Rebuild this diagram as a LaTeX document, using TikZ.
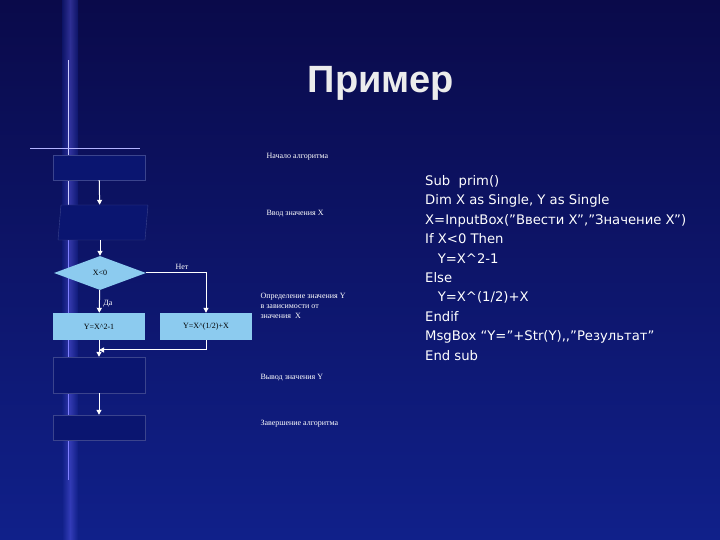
\documentclass[tikz,border=0pt]{standalone}
\usepackage{fontspec}
\setmainfont{Liberation Serif}
\newfontfamily\codefont{DejaVu Sans}
\newfontfamily\titlefont{Liberation Sans}
\usetikzlibrary{shapes.geometric,arrows.meta}
\definecolor{bgA}{HTML}{0A0A4A}
\definecolor{bgB}{HTML}{10208A}
\definecolor{boxfill}{HTML}{8CCBEF}
\definecolor{darkbox}{HTML}{0A1570}
\tikzset{x=1pt,y=1pt,
 dbox/.style={draw=darkbox!80!white,fill=darkbox,minimum width=92pt,inner sep=0pt},
 lbox/.style={fill=boxfill,minimum width=92pt,minimum height=27pt,inner sep=0pt,font=\fontsize{8}{9}\selectfont},
 lbl/.style={text=white,font=\fontsize{8}{10}\selectfont,anchor=west,align=left},
 arr/.style={white,line width=1pt,-{Triangle[length=5pt,width=5pt]}},
 ln/.style={white,line width=1pt}}
\begin{document}
\begin{tikzpicture}
\shade[top color=bgA,bottom color=bgB] (0,0) rectangle (720,540);
\shade[left color=bgB,right color=bgB,middle color=blue!60!white,opacity=0.4] (62,0) rectangle (78,540);
\draw[white!80!blue,line width=1pt] (68,300) -- (68,480);
\draw[blue!50!white,line width=0.6pt] (68,60) -- (68,300);
\draw[white!70!blue,line width=0.8pt] (30,392) -- (140,392);
\node[text=white!85!gray,font=\titlefont\bfseries\fontsize{38}{42}\selectfont] (title) at (381,457) {Пример};
% flowchart
\node[dbox,minimum height=25pt] (start) at (99,372.5) {};
\node[minimum width=88pt,minimum height=35pt,inner sep=0pt] (inp) at (100,317.5) {};
\fill[darkbox,draw=darkbox!80!white] (58,300) -- (145,300) -- (148,335) -- (61,335) -- cycle;
\node[diamond,aspect=2.7,fill=boxfill,inner sep=0pt,minimum width=92pt,minimum height=34pt,font=\fontsize{8}{9}\selectfont] (cond) at (100,267) {X<0};
\node[lbox] (b1) at (99,213.5) {Y=X\textasciicircum 2-1};
\node[lbox] (b2) at (206,213.5) {Y=X\textasciicircum(1/2)+X};
\node[dbox,minimum height=36pt] (out) at (99,165) {};
\node[dbox,minimum height=25pt] (fin) at (99,112.5) {};
\draw[arr] (start) -- (inp);
\draw[arr] (inp) -- (cond);
\draw[arr] (cond) -- node[right,text=white,font=\fontsize{8}{9}\selectfont,yshift=-2pt]{Да} (b1);
\draw[arr] (cond.east) -| node[pos=0.3,above,text=white,font=\fontsize{8}{9}\selectfont]{Нет} (b2.north);
\coordinate (m) at (99,190);
\draw[arr] (b2.south) |- (m);
\draw[arr] (b1) -- (out);
\draw[arr] (out) -- (fin);
% labels
\node[lbl] (l1) at (263,383) {Начало алгоритма};
\node[lbl] (l2) at (263,326) {Ввод значения X};
\node[lbl] (l3) at (257,234) {Определение значения Y\\в зависимости от\\значения\ \ X};
\node[lbl] (l4) at (257,162) {Вывод значения Y};
\node[lbl] (l5) at (257,116) {Завершение алгоритма};
% code
\node[text=white,font=\codefont\fontsize{13.2}{19.45}\selectfont,anchor=north west,align=left,inner sep=0pt] (code) at (425,365) {Sub\ \ prim()\\Dim X as Single, Y as Single\\X=InputBox(”Ввести X”,”Значение X”)\\If X<0 Then\\\ \ \ Y=X\textasciicircum 2-1\\Else\\\ \ \ Y=X\textasciicircum(1/2)+X\\Endif\\MsgBox “Y=”+Str(Y),,”Результат”\\End sub};
\end{tikzpicture}
\end{document}
